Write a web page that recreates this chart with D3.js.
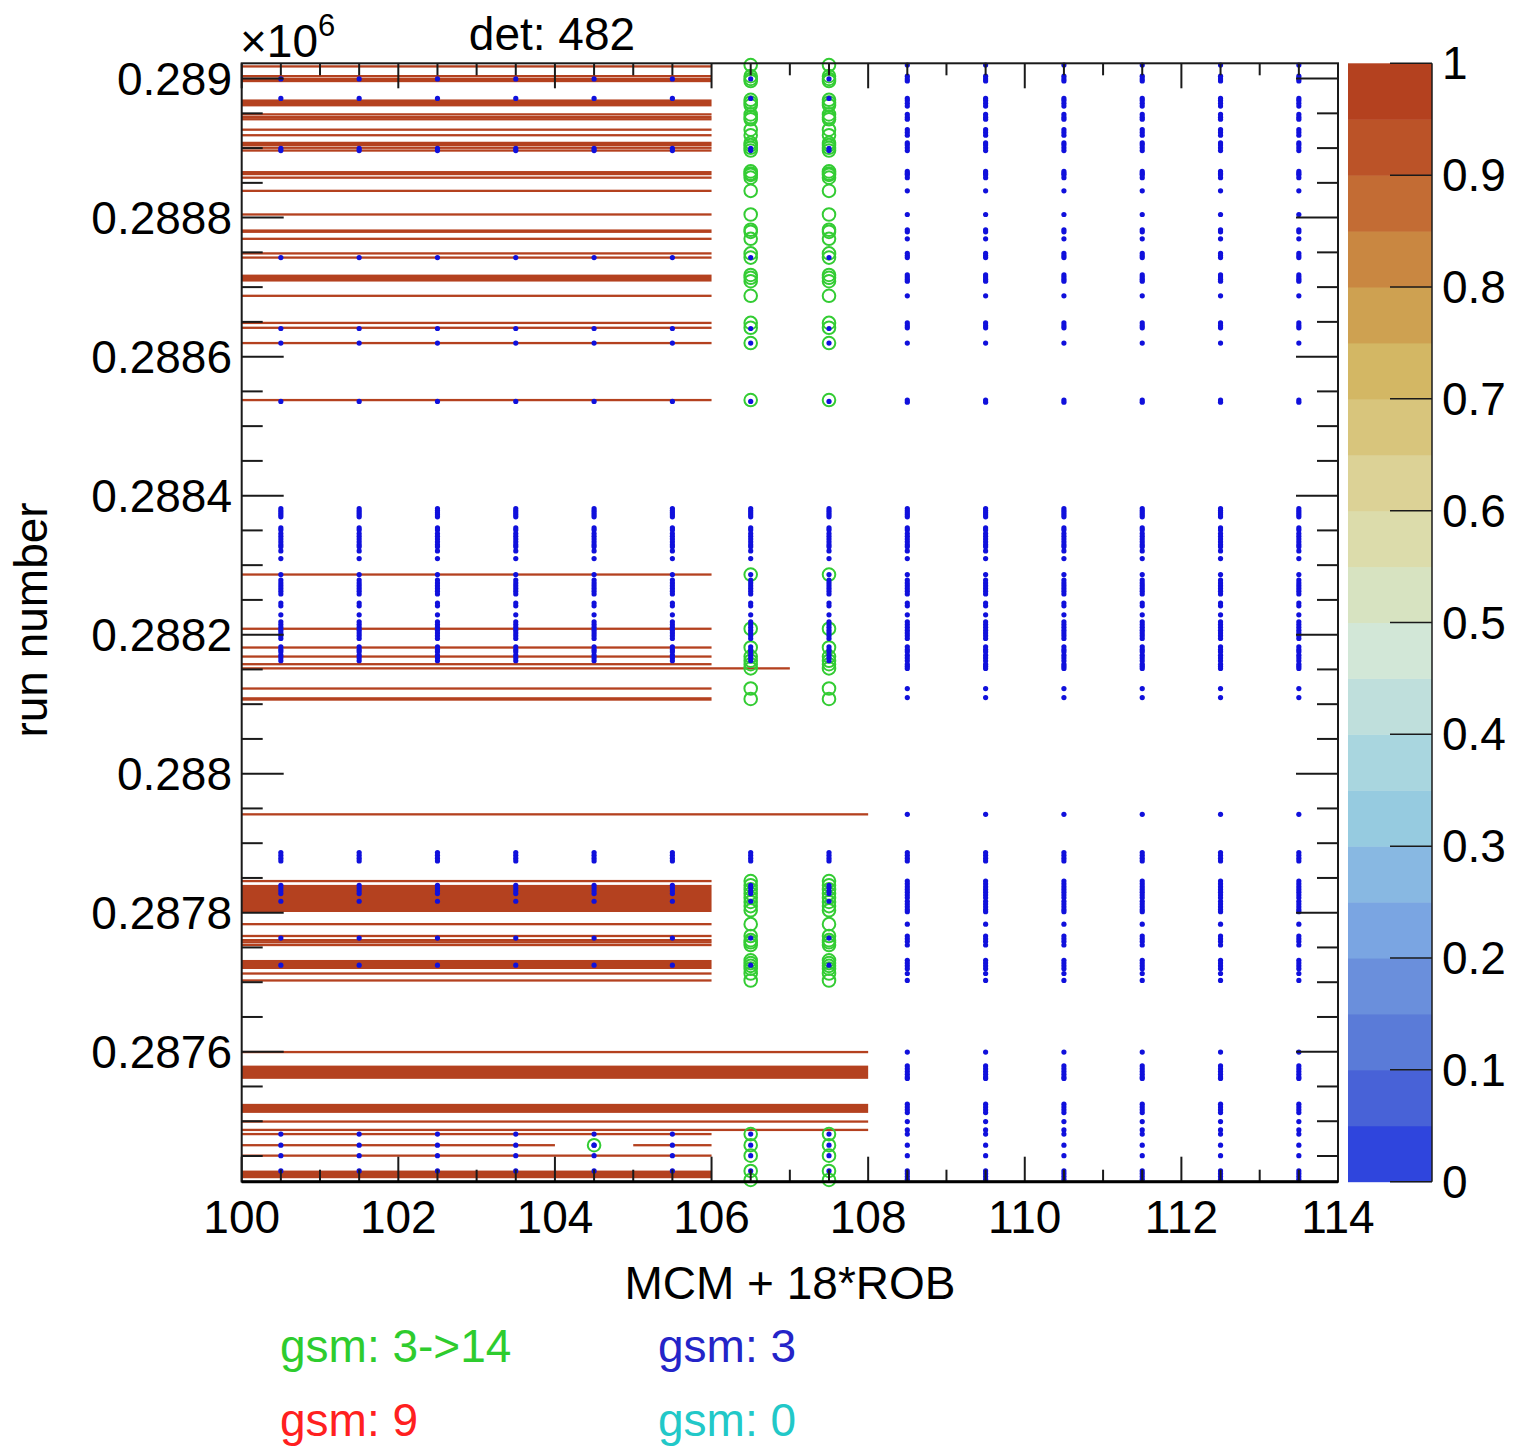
<!DOCTYPE html>
<html>
<head>
<meta charset="utf-8">
<script src="https://cdn.jsdelivr.net/npm/d3@7"></script>
<style>
  body { margin: 0; background: #fff; }
  svg { display: block; }
  text { font-family: "Liberation Sans", Arial, Helvetica, sans-serif; fill: #000; }
</style>
</head>
<body>
<svg id="chart" width="1514" height="1447"></svg>
<script>
// ---------------- data ----------------
const detectorId = 482;
const xDomain = [100, 114];          // MCM + 18*ROB
const yDomain = [287413, 289022];    // run number

// Runs whose cells are set (value 1) over bins 100..105, as [firstRun, lastRun]
const flaggedBins100to105 = [
  [289017, 289017],
  [289003, 289003], [288999, 288999], [288996, 288996],
  [288960, 288969],
  [288948, 288948], [288944, 288944], [288941, 288941],
  [288926, 288926], [288918, 288918],
  [288907, 288907], [288904, 288904], [288900, 288900], [288896, 288896],
  [288861, 288866], [288857, 288857],
  [288838, 288838],
  [288804, 288804],
  [288778, 288782], [288769, 288769],
  [288748, 288748], [288742, 288742],
  [288708, 288717],
  [288687, 288687],
  [288648, 288648], [288641, 288641],
  [288619, 288619],
  [288537, 288537],
  [288286, 288286],
  [288208, 288208], [288181, 288181], [288168, 288168], [288157, 288157],
  [288122, 288122], [288105, 288109],
  [287845, 287845],
  [287801, 287839],
  [287783, 287783],
  [287766, 287766], [287760, 287760], [287757, 287757], [287753, 287753],
  [287719, 287731], [287712, 287712], [287702, 287702],
  [287481, 287481],
  [287465, 287465],
  [287450, 287450],
  [287418, 287428]
];
// Runs whose cells are set over bins 100..106
const flaggedBins100to106 = [[288151, 288151]];
// Runs whose cells are set over bins 100..107
const flaggedBins100to107 = [
  [287941, 287941], [287599, 287599], [287561, 287579],
  [287512, 287524], [287499, 287499], [287487, 287487]
];
// Single cells left empty inside a flagged run: [bin, run]
const emptyCells = [[104, 287465]];

// gsm: 3 markers, bins 100..107
const gsm3RunsBins100to107 = [
  288999, 288971, 288899, 288896, 288742, 288640, 288619, 288535,
  288381, 288378, 288375, 288372, 288369, 288353, 288350,
  288345, 288341, 288337, 288333, 288329, 288326, 288320, 288309,
  288286, 288278, 288274, 288270, 288266, 288262, 288258,
  288245, 288241, 288228, 288218, 288214, 288210, 288206, 288202, 288198, 288194,
  288182, 288178, 288175, 288170, 288166, 288162,
  287886, 287882, 287878, 287874, 287839, 287835, 287831, 287827, 287816,
  287763, 287724,
  287481, 287465, 287450, 287428
];
// gsm: 3 markers, bins 108..113
const gsm3RunsBins108to113 = [
  289019, 289003, 288999, 288996, 288971, 288968, 288964, 288960,
  288948, 288944, 288941, 288926, 288922, 288918,
  288907, 288904, 288900, 288896, 288866, 288863, 288861, 288857,
  288838, 288804, 288782, 288779, 288769, 288748, 288745, 288742,
  288717, 288714, 288711, 288708, 288687, 288648, 288644, 288641,
  288619, 288537, 288534,
  288381, 288378, 288375, 288372, 288369, 288353, 288350,
  288345, 288341, 288337, 288333, 288329, 288326, 288320, 288309,
  288286, 288278, 288274, 288270, 288266, 288262, 288258,
  288245, 288241, 288228, 288218, 288214, 288210, 288206, 288202, 288198, 288194,
  288182, 288178, 288175, 288170, 288166, 288162, 288157, 288154, 288151,
  288122, 288109,
  287941, 287886, 287882, 287878, 287874,
  287845, 287841, 287837, 287833, 287829, 287825, 287821, 287816, 287812, 287808, 287804, 287801,
  287783, 287766, 287762, 287758, 287753,
  287731, 287727, 287723, 287719, 287712, 287702,
  287599, 287579, 287575, 287571, 287567, 287563, 287561,
  287524, 287520, 287516, 287512, 287499, 287487, 287481,
  287465, 287450, 287428, 287424, 287420, 287416
];
// gsm: 3->14 markers, bins 106..107
const gsm3to14RunsBins106to107 = [
  289019, 289003, 288999, 288996,
  288969, 288965, 288961, 288948, 288944, 288941,
  288926, 288918, 288907, 288904, 288900, 288896,
  288866, 288863, 288861, 288857,
  288838, 288804, 288782, 288779, 288769, 288748, 288742,
  288717, 288713, 288708, 288687, 288648, 288641, 288619, 288537,
  288286, 288208, 288181, 288168, 288162, 288157, 288151, 288122, 288107,
  287845, 287839, 287833, 287827, 287821, 287815, 287809, 287803,
  287783, 287766, 287760, 287757, 287753,
  287731, 287727, 287723, 287719, 287712, 287702,
  287481, 287465, 287450, 287428, 287415
];
// extra single cells: [bin, run]
const gsm3to14Cells = [[104, 287465]];
const gsm3Cells = [[104, 287465]];

// colour levels of the palette, from 0 up to 1
const paletteLevels = [
  "#2f45dd", "#4862d7", "#5a7bd8", "#6a8fdc", "#7aa5e2",
  "#88b8e2", "#96cbe0", "#a9d6df", "#bfdfdc", "#d2e7d7",
  "#d7e3c1", "#dcdcab", "#dcd296", "#d8c57c", "#d3b764",
  "#cea151", "#c98741", "#c36c34", "#bb5328", "#b4411f"
];
const cellValue = 1;

const yMajorTicks = [287600, 287800, 288000, 288200, 288400, 288600, 288800, 289000];
const xMajorTicks = [100, 102, 104, 106, 108, 110, 112, 114];
const zTicks = [0, 0.1, 0.2, 0.3, 0.4, 0.5, 0.6, 0.7, 0.8, 0.9, 1];

const legendEntries = [
  { label: "gsm: 3->14", color: "#2ecc2e", col: 0, row: 0 },
  { label: "gsm: 3",     color: "#2424c8", col: 1, row: 0 },
  { label: "gsm: 9",     color: "#ff2020", col: 0, row: 1 },
  { label: "gsm: 0",     color: "#22c8c8", col: 1, row: 1 }
];

// ---------------- layout ----------------
const frame = { left: 241.7, right: 1338, top: 63.3, bottom: 1181.7 };
const bar = { left: 1348, right: 1432 };
const FS = 46;

const svg = d3.select("#chart");
const x = d3.scaleLinear().domain(xDomain).range([frame.left, frame.right]);
const y = d3.scaleLinear().domain(yDomain).range([frame.bottom, frame.top]);
const z = d3.scaleLinear().domain([0, 1]).range([frame.bottom, frame.top]);
const colour = d3.scaleQuantize().domain([0, 1]).range(paletteLevels);

svg.append("defs").append("clipPath").attr("id", "frameClip")
  .append("rect")
  .attr("x", frame.left).attr("y", frame.top)
  .attr("width", frame.right - frame.left).attr("height", frame.bottom - frame.top);

// ---------------- cells ----------------
// each flagged run span becomes one or more horizontal strips of adjacent bins
const strips = [];
function addStrips(spans, firstBin, lastBin) {
  spans.forEach(([r0, r1]) => {
    const holes = emptyCells.filter(([b, r]) => r >= r0 && r <= r1 && b >= firstBin && b <= lastBin);
    if (!holes.length) { strips.push({ b0: firstBin, b1: lastBin + 1, r0, r1 }); return; }
    holes.forEach(([hb, hr]) => {
      // rows above and below the hole keep the full width
      if (hr < r1) strips.push({ b0: firstBin, b1: lastBin + 1, r0: hr + 1, r1 });
      if (hr > r0) strips.push({ b0: firstBin, b1: lastBin + 1, r0, r1: hr - 1 });
      if (hb > firstBin) strips.push({ b0: firstBin, b1: hb, r0: hr, r1: hr });
      if (hb < lastBin) strips.push({ b0: hb + 1, b1: lastBin + 1, r0: hr, r1: hr });
    });
  });
}
addStrips(flaggedBins100to105, 100, 105);
addStrips(flaggedBins100to106, 100, 106);
addStrips(flaggedBins100to107, 100, 107);

const minH = 2.3;
svg.append("g").attr("clip-path", "url(#frameClip)")
  .selectAll("rect").data(strips).join("rect")
  .attr("x", d => x(d.b0))
  .attr("width", d => x(d.b1) - x(d.b0))
  .attr("y", d => {
    const top = y(d.r1 + 1), h = y(d.r0) - top;
    return h < minH ? top + h / 2 - minH / 2 : top;
  })
  .attr("height", d => Math.max(minH, y(d.r0) - y(d.r1 + 1)))
  .attr("fill", colour(cellValue));

// ---------------- markers ----------------
const greenPts = [];
gsm3to14RunsBins106to107.forEach(r => { [106, 107].forEach(b => greenPts.push([b, r])); });
gsm3to14Cells.forEach(c => greenPts.push(c));

const bluePts = [];
gsm3RunsBins100to107.forEach(r => { d3.range(100, 108).forEach(b => bluePts.push([b, r])); });
gsm3RunsBins108to113.forEach(r => { d3.range(108, 114).forEach(b => bluePts.push([b, r])); });
gsm3Cells.forEach(c => bluePts.push(c));

const center = r => y(r + 0.5);

svg.append("g").selectAll("circle").data(greenPts).join("circle")
  .attr("cx", d => x(d[0] + 0.5)).attr("cy", d => center(d[1]))
  .attr("r", 6.3).attr("fill", "none")
  .attr("stroke", "#33cc33").attr("stroke-width", 2);

svg.append("g").selectAll("circle").data(bluePts).join("circle")
  .attr("cx", d => x(d[0] + 0.5)).attr("cy", d => center(d[1]))
  .attr("r", 2.6).attr("fill", "#1010dc");

// ---------------- frame & axes ----------------
const axisCol = "#1a1a1a";
svg.append("rect")
  .attr("x", frame.left).attr("y", frame.top)
  .attr("width", frame.right - frame.left).attr("height", frame.bottom - frame.top)
  .attr("fill", "none").attr("stroke", axisCol).attr("stroke-width", 2);

const yMinor = d3.range(287450, 289001, 50).filter(v => !yMajorTicks.includes(v));
const xMinor = d3.range(100.5, 114, 0.5).filter(v => !xMajorTicks.includes(v));

const tk = svg.append("g").attr("stroke", axisCol).attr("stroke-width", 2);
// y ticks, left and right
[[yMajorTicks, 42], [yMinor, 21]].forEach(([vals, len]) => {
  tk.selectAll(null).data(vals).join("line")
    .attr("x1", frame.left).attr("x2", frame.left + len)
    .attr("y1", d => y(d)).attr("y2", d => y(d));
  tk.selectAll(null).data(vals).join("line")
    .attr("x1", frame.right).attr("x2", frame.right - len)
    .attr("y1", d => y(d)).attr("y2", d => y(d));
});
// x ticks, bottom and top
[[xMajorTicks, 25], [xMinor, 12]].forEach(([vals, len]) => {
  tk.selectAll(null).data(vals).join("line")
    .attr("x1", d => x(d)).attr("x2", d => x(d))
    .attr("y1", frame.bottom).attr("y2", frame.bottom - len);
  tk.selectAll(null).data(vals).join("line")
    .attr("x1", d => x(d)).attr("x2", d => x(d))
    .attr("y1", frame.top).attr("y2", frame.top + len);
});
// bottom axis line a little heavier
svg.append("line")
  .attr("x1", frame.left).attr("x2", frame.right)
  .attr("y1", frame.bottom).attr("y2", frame.bottom)
  .attr("stroke", "#000").attr("stroke-width", 3);

// tick labels
svg.append("g").selectAll("text").data(yMajorTicks).join("text")
  .attr("x", 232).attr("y", d => y(d)).attr("dy", "0.35em")
  .attr("text-anchor", "end").attr("font-size", FS)
  .text(d => String(+(d / 1e6).toFixed(4)));

svg.append("g").selectAll("text").data(xMajorTicks).join("text")
  .attr("x", d => x(d)).attr("y", 1233)
  .attr("text-anchor", "middle").attr("font-size", FS)
  .text(d => d);

// exponent
const ex = svg.append("text").attr("x", 240).attr("y", 57).attr("font-size", FS);
ex.append("tspan").text("\u00d710");
ex.append("tspan").attr("font-size", 31).attr("dy", -21).text("6");

// titles
svg.append("text").attr("x", 552).attr("y", 50).attr("text-anchor", "middle")
  .attr("font-size", FS).text("det: " + detectorId);
svg.append("text").attr("x", 790).attr("y", 1299).attr("text-anchor", "middle")
  .attr("font-size", FS).text("MCM + 18*ROB");
svg.append("text")
  .attr("transform", "translate(47,620) rotate(-90)")
  .attr("text-anchor", "middle").attr("font-size", FS).text("run number");

// ---------------- palette bar ----------------
const levelIdx = d3.range(paletteLevels.length);
svg.append("g").selectAll("rect").data(levelIdx).join("rect")
  .attr("x", bar.left).attr("width", bar.right - bar.left)
  .attr("y", i => z((i + 1) / paletteLevels.length))
  .attr("height", i => z(i / paletteLevels.length) - z((i + 1) / paletteLevels.length) + 0.5)
  .attr("fill", i => colour((i + 0.5) / paletteLevels.length));

svg.append("line")
  .attr("x1", bar.right).attr("x2", bar.right)
  .attr("y1", frame.top).attr("y2", frame.bottom)
  .attr("stroke", axisCol).attr("stroke-width", 1.5);
svg.append("g").selectAll("line").data(zTicks).join("line")
  .attr("x1", bar.right).attr("x2", bar.right - 42)
  .attr("y1", d => z(d)).attr("y2", d => z(d))
  .attr("stroke", axisCol).attr("stroke-width", 1.5);
svg.append("g").selectAll("text").data(zTicks).join("text")
  .attr("x", 1442).attr("y", d => z(d)).attr("dy", "0.35em")
  .attr("font-size", FS)
  .text(d => String(+d.toFixed(1)));

// ---------------- legend ----------------
svg.append("g").selectAll("text").data(legendEntries).join("text")
  .attr("x", d => d.col === 0 ? 280 : 658)
  .attr("y", d => d.row === 0 ? 1362 : 1436)
  .attr("font-size", FS)
  .attr("style", d => "fill:" + d.color)
  .text(d => d.label);
</script>
</body>
</html>
